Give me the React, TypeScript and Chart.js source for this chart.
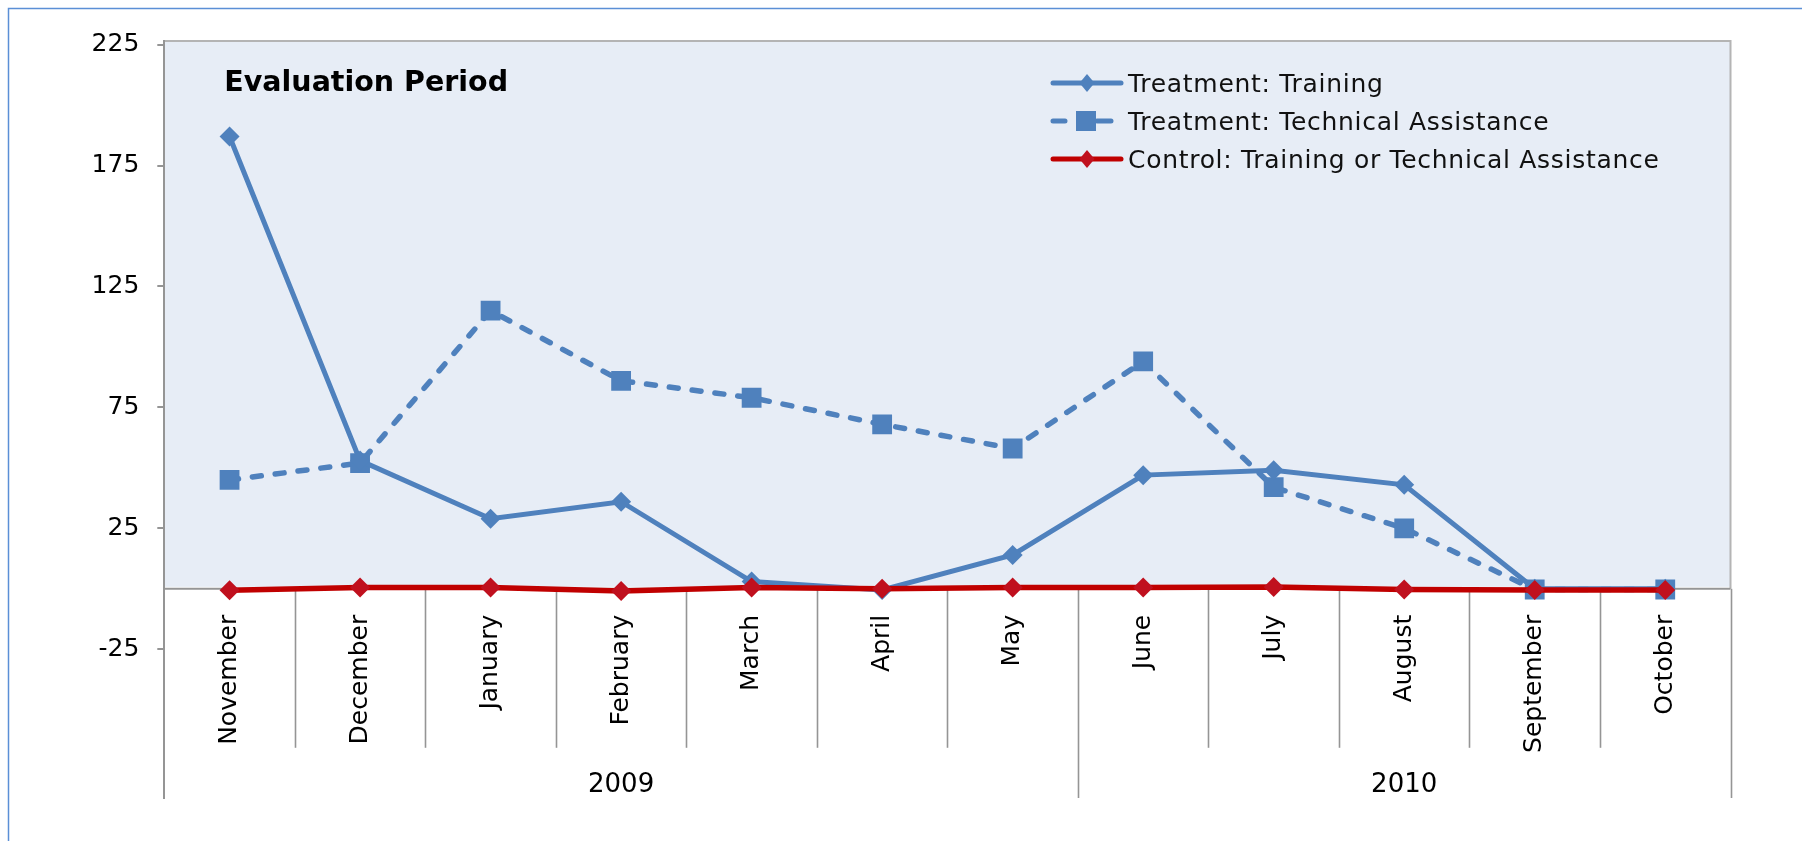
import React, { useEffect, useRef } from "react";
import { Chart, registerables } from "chart.js";

Chart.register(...registerables);

// ---- data ----
const months = [
  "November", "December", "January", "February", "March", "April",
  "May", "June", "July", "August", "September", "October",
];
const years = ["2009", "2010"];
const yearSpans = [7, 5]; // months covered by each year group
const seriesNames = [
  "Treatment: Training",
  "Treatment: Technical Assistance",
  "Control: Training or Technical Assistance",
];
const training = [187, 53, 29, 36, 3, -0.5, 14, 47, 49, 43, 0, 0];
const technical = [45, 52, 115, 86, 79, 68, 58, 94, 42, 25, -0.3, -0.3];
const control = [-0.6, 0.5, 0.5, -0.9, 0.5, 0, 0.5, 0.5, 0.7, -0.3, -0.5, -0.5];
const yTicks = [-25, 25, 75, 125, 175, 225];
const periodLabel = "Evaluation Period";

const BLUE = "#4F81BD";
const RED = "#C00000";
const RED_MARK = "#C0101E";
const AXIS_GRAY = "#959595";
const FONT = "'DejaVu Sans', sans-serif";

const framePlugin = {
  id: "frame",
  beforeDraw(chart: any) {
    const { ctx, chartArea, scales } = chart;
    const y = scales.y;
    const zero = y.getPixelForValue(0);
    ctx.save();
    ctx.fillStyle = "#ffffff";
    ctx.fillRect(0, 0, chart.width, chart.height);
    // outer chart border (left + top)
    ctx.strokeStyle = "#5B8FD6";
    ctx.lineWidth = 1.5;
    ctx.beginPath();
    ctx.moveTo(8.5, chart.height);
    ctx.lineTo(8.5, 8.5);
    ctx.lineTo(chart.width, 8.5);
    ctx.stroke();
    // plot background (only above zero)
    ctx.fillStyle = "#E7EDF6";
    ctx.fillRect(chartArea.left, chartArea.top, chartArea.right - chartArea.left, zero - 2 - chartArea.top);
    // top and right plot border
    ctx.strokeStyle = "#B4B4B4";
    ctx.lineWidth = 2;
    ctx.beginPath();
    ctx.moveTo(chartArea.left, chartArea.top);
    ctx.lineTo(chartArea.right, chartArea.top);
    ctx.lineTo(chartArea.right, zero);
    ctx.stroke();
    ctx.restore();
  },
  beforeDatasetsDraw(chart: any) {
    const { ctx, chartArea, scales } = chart;
    const x = scales.x;
    const y = scales.y;
    const zero = y.getPixelForValue(0);
    const half = (x.getPixelForValue(1) - x.getPixelForValue(0)) / 2;
    const groupEnds = new Set<number>();
    let acc = 0;
    yearSpans.forEach((s) => {
      acc += s;
      groupEnds.add(acc);
    });
    ctx.save();
    ctx.strokeStyle = AXIS_GRAY;
    ctx.lineWidth = 2;
    // category axis line
    ctx.beginPath();
    ctx.moveTo(chartArea.left, zero);
    ctx.lineTo(chartArea.right, zero);
    ctx.stroke();
    // separators
    for (let k = 1; k <= months.length; k++) {
      const bx = Math.round(x.getPixelForValue(k) - half) + 0.5;
      const end = groupEnds.has(k) ? chartArea.bottom : zero + 159;
      ctx.beginPath();
      ctx.lineWidth = 1.6;
      ctx.moveTo(bx, zero);
      ctx.lineTo(bx, end);
      ctx.stroke();
    }
    // year labels
    ctx.fillStyle = "#000";
    ctx.font = `26px ${FONT}`;
    ctx.textAlign = "center";
    ctx.textBaseline = "alphabetic";
    let start = 0;
    years.forEach((yr, i) => {
      const left = x.getPixelForValue(start) - half;
      const right = x.getPixelForValue(start + yearSpans[i] - 1) + half;
      ctx.fillText(yr, (left + right) / 2, zero + 203.5);
      start += yearSpans[i];
    });
    ctx.restore();
  },
  afterDraw(chart: any) {
    const { ctx, chartArea } = chart;
    ctx.save();
    // period label
    ctx.fillStyle = "#000";
    ctx.font = `bold 28.5px ${FONT}`;
    ctx.textAlign = "left";
    ctx.textBaseline = "alphabetic";
    ctx.fillText(periodLabel, chartArea.left + 60, 91);

    // legend
    const lx0 = 1051;
    const lx1 = 1123;
    const mid = (lx0 + lx1) / 2;
    const textX = 1128;
    const rows = [83, 121, 159];
    chart.data.datasets.forEach((ds: any, i: number) => {
      const ry = rows[i];
      ctx.lineCap = "round";
      ctx.lineWidth = 5;
      ctx.strokeStyle = ds.borderColor;
      if (ds.borderDash && ds.borderDash.length) {
        ctx.beginPath();
        ctx.moveTo(lx0 + 2, ry);
        ctx.lineTo(lx0 + 14, ry);
        ctx.moveTo(lx1 - 26, ry);
        ctx.lineTo(lx1 - 12, ry);
        ctx.stroke();
      } else {
        ctx.beginPath();
        ctx.moveTo(lx0 + 2, ry);
        ctx.lineTo(lx1 - 2, ry);
        ctx.stroke();
      }
      ctx.fillStyle = ds.pointBackgroundColor;
      ctx.beginPath();
      if (ds.pointStyle === "rect") {
        ctx.rect(mid - 11, ry - 10, 20, 20);
      } else {
        ctx.moveTo(mid, ry - 9);
        ctx.lineTo(mid + 7.5, ry);
        ctx.lineTo(mid, ry + 9);
        ctx.lineTo(mid - 7.5, ry);
        ctx.closePath();
      }
      ctx.fill();
      ctx.fillStyle = "#111";
      ctx.font = `25px ${FONT}`;
      try {
        (ctx as any).letterSpacing = "0.7px";
      } catch (e) {
        /* ignore */
      }
      ctx.fillText(ds.label, textX, ry + 9);
      try {
        (ctx as any).letterSpacing = "0px";
      } catch (e) {
        /* ignore */
      }
    });
    ctx.restore();
  },
};

export default function App() {
  const ref = useRef<HTMLCanvasElement>(null);

  useEffect(() => {
    const canvas = ref.current;
    if (!canvas) return;
    const chart = new Chart(canvas, {
      type: "line",
      data: {
        labels: months,
        datasets: [
          {
            label: seriesNames[0],
            data: training,
            borderColor: BLUE,
            backgroundColor: BLUE,
            pointBackgroundColor: BLUE,
            pointBorderColor: BLUE,
            borderWidth: 5,
            pointStyle: "rectRot",
            pointRadius: 10,
            pointBorderWidth: 0,
            tension: 0,
            order: 1,
            borderDash: [],
          },
          {
            label: seriesNames[1],
            data: technical,
            borderColor: BLUE,
            backgroundColor: BLUE,
            pointBackgroundColor: BLUE,
            pointBorderColor: BLUE,
            borderWidth: 5.5,
            borderDash: [9, 14],
            borderCapStyle: "round",
            pointStyle: "rect",
            pointRadius: 14,
            pointBorderWidth: 0,
            tension: 0,
            order: 2,
          },
          {
            label: seriesNames[2],
            data: control,
            borderColor: RED,
            backgroundColor: RED,
            pointBackgroundColor: RED_MARK,
            pointBorderColor: RED_MARK,
            borderWidth: 5.5,
            pointStyle: "rectRot",
            pointRadius: 10,
            pointBorderWidth: 0,
            tension: 0,
            order: 0,
            borderDash: [],
          },
        ],
      } as any,
      options: {
        animation: false,
        responsive: false,
        devicePixelRatio: 1,
        layout: { padding: { left: 0, right: 71.5, top: 41, bottom: 43 } },
        plugins: {
          legend: { display: false },
          title: { display: false },
          tooltip: { enabled: false },
        },
        scales: {
          x: {
            type: "category",
            position: { y: 0 } as any,
            offset: true,
            grid: { display: false },
            border: { display: false },
            ticks: {
              autoSkip: false,
              minRotation: 90,
              maxRotation: 90,
              padding: 18,
              color: "#000",
              font: { family: FONT, size: 25 },
            },
          },
          y: {
            type: "linear",
            position: "left",
            min: -86.5,
            max: 226.5,
            afterFit: (s: any) => {
              s.width = 164.3;
            },
            afterBuildTicks: (s: any) => {
              s.ticks = yTicks.map((v) => ({ value: v }));
            },
            grid: {
              display: true,
              drawOnChartArea: false,
              drawTicks: true,
              tickLength: 7,
              color: AXIS_GRAY,
              lineWidth: 2,
            },
            border: { display: true, color: AXIS_GRAY, width: 2 },
            ticks: {
              padding: 18,
              color: "#000",
              font: { family: FONT, size: 25 },
            },
          },
        },
      } as any,
      plugins: [framePlugin],
    });
    return () => chart.destroy();
  }, []);

  return (
    <div style={{ position: "fixed", left: 0, top: 0, width: 1802, height: 841, background: "#fff" }}>
      <canvas ref={ref} width={1802} height={841} style={{ display: "block", width: 1802, height: 841 }} />
    </div>
  );
}
